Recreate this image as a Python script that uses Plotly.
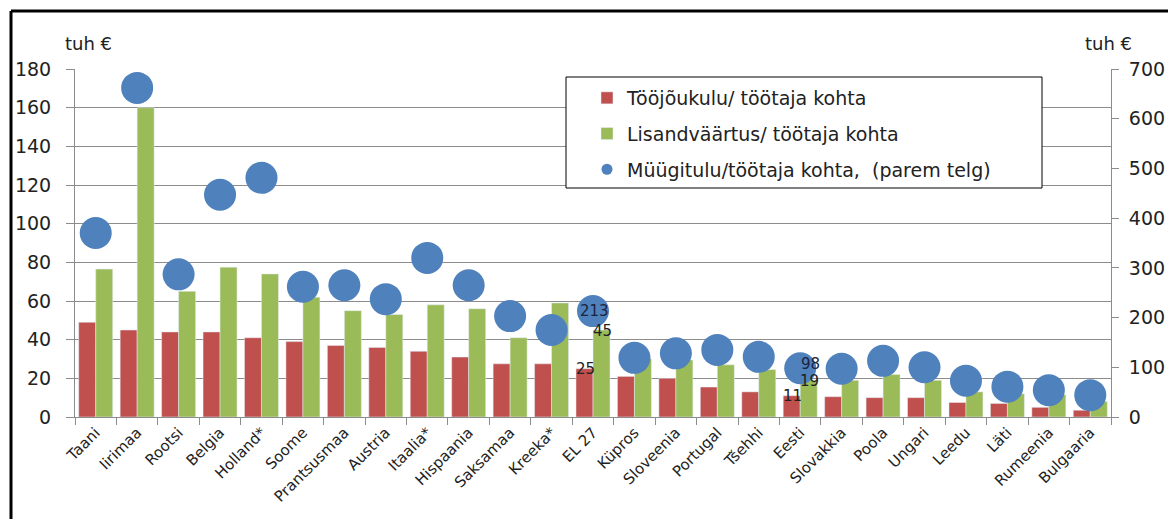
import plotly.graph_objects as go

riigid = ["Taani", "Iirimaa", "Rootsi", "Belgia", "Holland*", "Soome", "Prantsusmaa",
          "Austria", "Itaalia*", "Hispaania", "Saksamaa", "Kreeka*", "EL 27", "Küpros",
          "Sloveenia", "Portugal", "Tšehhi", "Eesti", "Slovakkia", "Poola", "Ungari",
          "Leedu", "Läti", "Rumeenia", "Bulgaaria"]

toojoukulu = [49, 45, 44, 44, 41, 39, 37, 36, 34, 31, 27.5, 27.5, 25, 21, 20, 15.5,
              13, 11, 10.5, 10, 10, 7.5, 7, 5, 3.5]
lisandvaartus = [76.5, 160, 65, 77.5, 74, 62, 55, 53, 58, 56, 41, 59, 45, 30, 29.5,
                 27, 24.5, 19, 19, 22, 19, 13, 12, 11.5, 8]
myygitulu = [370, 662, 287, 447, 481, 262, 265, 237, 320, 265, 203, 175, 213, 119,
             128, 135, 121, 98, 97, 113, 100, 73, 61, 54, 44]

# riigid, mille väärtused on joonisel sildiga
sildiga = ["EL 27", "Eesti"]

punane = "#C0504D"
roheline = "#9BBB59"
sinine = "#4F81BD"
font = "DejaVu Sans"

# lehe body margin on 8 px igal pool, joonis peab mahtuma aknasse ilma kerimisribata
O = 8
W, H = 1176 - 2 * O, 527 - 2 * O
L, R, T, B = 75 - O, W - (1111 - O), 69 - O, H - (417 - O)
pw, ph = W - L - R, H - T - B


def px(x):
    return (x - O - L) / pw


def py(y):
    return (H - B - (y - O)) / ph


fig = go.Figure()
fig.add_trace(go.Bar(x=riigid, y=toojoukulu, name="Tööjõukulu/ töötaja kohta",
                     marker_color=punane, legendgroup="a"))
fig.add_trace(go.Bar(x=riigid, y=lisandvaartus, name="Lisandväärtus/ töötaja kohta",
                     marker_color=roheline, legendgroup="b"))
fig.add_trace(go.Scatter(x=riigid, y=myygitulu, yaxis="y2", mode="markers",
                         marker=dict(color=sinine, size=32), showlegend=False))
# legendi jaoks väiksem ring
fig.add_trace(go.Scatter(x=[None], y=[None], yaxis="y2", mode="markers",
                         name="Müügitulu/töötaja kohta,  (parem telg)",
                         marker=dict(color=sinine, size=11), legendgroup="c"))

for r in sildiga:
    i = riigid.index(r)
    fig.add_annotation(x=r, y=toojoukulu[i], yref="y", text=str(round(toojoukulu[i])),
                       showarrow=False, xshift=-8, font=dict(size=15, color="#222"))
    fig.add_annotation(x=r, y=lisandvaartus[i], yref="y", text=str(round(lisandvaartus[i])),
                       showarrow=False, xshift=9, yshift=-1, font=dict(size=15, color="#222"))
    fig.add_annotation(x=r, y=myygitulu[i], yref="y2", text=str(myygitulu[i]),
                       showarrow=False, xshift=1 if r == "EL 27" else 10,
                       yshift=0 if r == "EL 27" else 4,
                       font=dict(size=15, color="#1a2440"))

for xx in [88, 1108]:
    fig.add_annotation(x=px(xx), y=py(43), xref="paper", yref="paper", text="tuh €",
                       showarrow=False, xanchor="center", yanchor="middle",
                       font=dict(size=18, color="#222"))

# välimine raam (ülal ja vasakul)
fig.add_shape(type="line", xref="paper", yref="paper", x0=px(11), x1=px(1190),
              y0=py(11), y1=py(11), line=dict(color="black", width=3))
fig.add_shape(type="line", xref="paper", yref="paper", x0=px(11), x1=px(11),
              y0=py(11), y1=py(540), line=dict(color="black", width=3))
# legendi kast
fig.add_shape(type="rect", xref="paper", yref="paper", x0=px(566), x1=px(1042),
              y0=py(77), y1=py(188), line=dict(color="black", width=1),
              fillcolor="white", layer="above")

fig.update_layout(
    width=W, height=H,
    margin=dict(l=L, r=R, t=T, b=B, autoexpand=False),
    paper_bgcolor="white", plot_bgcolor="white",
    font=dict(family=font, color="#222"),
    barmode="group", bargap=0.18, bargroupgap=0,
    showlegend=True,
    legend=dict(x=px(587), y=py(79), xanchor="left", yanchor="top",
                borderwidth=0, bgcolor="rgba(0,0,0,0)",
                font=dict(size=19, color="#222"), tracegroupgap=8,
                traceorder="grouped"),
    xaxis=dict(range=[-0.5, len(riigid) - 0.5], showline=True, linecolor="#8c8c8c",
               ticks="outside", tickson="boundaries", ticklen=7, tickcolor="#8c8c8c",
               tickangle=-45, tickfont=dict(size=15), showgrid=False, automargin=False),
    yaxis=dict(range=[0, 180], dtick=20, showline=True, linecolor="#8c8c8c",
               gridcolor="#8c8c8c", ticks="outside", ticklen=8, tickcolor="#8c8c8c",
               tickfont=dict(size=19), zeroline=False, automargin=False,
               ticklabelstandoff=11),
    yaxis2=dict(range=[0, 700], dtick=100, overlaying="y", side="right", showline=True,
                linecolor="#8c8c8c", showgrid=False, ticks="outside", ticklen=7,
                tickcolor="#8c8c8c", tickfont=dict(size=19), zeroline=False,
                automargin=False, ticklabelstandoff=6),
)

fig.write_html("out.html")
